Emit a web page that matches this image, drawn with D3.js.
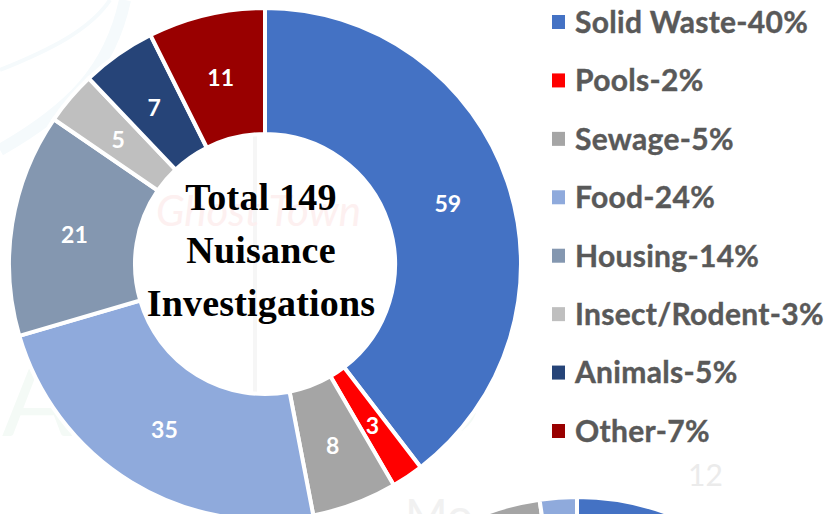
<!DOCTYPE html>
<html><head><meta charset="utf-8">
<script src="https://cdnjs.cloudflare.com/ajax/libs/d3/7.8.5/d3.min.js"></script>
<style>html,body{margin:0;padding:0;background:#fff}svg{display:block}</style>
</head><body><svg id="c" width="835" height="514"></svg>
<script>
const categories=["Solid Waste","Pools","Sewage","Food","Housing","Insect/Rodent","Animals","Other"];
const values=[59,3,8,35,21,5,7,11];
const percents=[40,2,5,24,14,3,5,7];
const colors=["#4472c4","#ff0000","#a5a5a5","#8faadc","#8497b0","#bfbfbf","#264478","#990000"];
const centerLines=["Total 149","Nuisance","Investigations"];
const nextValues=[60,30.7,7,2.3];
const nextColors=["#4472c4","#bfbfbf","#a5a5a5","#8faadc"];
const faintWords=[["Ghost Town",156,226,42,"#fdf0f0"],["12",688,486,30,"#ebebeb"],["Mo",405,532,46,"#f1f1f1"],["A",2,436,104,"#f4faf6"],["O",400,436,104,"#f4faf6"]];
const faintLines=["M0,150C70,110 110,70 125,0","M0,70C50,50 90,30 110,0","M255,134V393"];

const svg=d3.select("#c");
const bg=svg.append("g");
faintLines.forEach((p,i)=>bg.append("path").attr("d",p).attr("fill","none").attr("stroke",i<2?"#f5fafc":"#f6f6f6").attr("stroke-width",i==0?12:4));
faintWords.forEach(w=>bg.append("text").text(w[0]).attr("x",w[1]).attr("y",w[2]).attr("font-size",w[3]).attr("fill",w[4]).attr("font-family","Lato").attr("font-style",w[0][0]=="G"?"italic":"normal"));
const pie=d3.pie().sort(null).value(d=>d);
const arc=d3.arc().innerRadius(130).outerRadius(256);
const main=svg.append("g").attr("transform","translate(265,264)");
main.selectAll("path").data(pie(values)).join("path").attr("d",arc).attr("fill",(d,i)=>colors[i]).attr("stroke","#fff").attr("stroke-width",4);
main.selectAll("text.v").data(pie(values)).join("text").attr("class","v")
 .attr("transform",d=>`translate(${arc.centroid(d)})`)
 .attr("text-anchor","middle").attr("dy","0.42em").attr("fill","#fff").attr("font-family","Lato").attr("font-weight",700).attr("font-size",23).text((d,i)=>values[i]);
main.append("g").selectAll("text").data(centerLines).join("text")
 .attr("x",-4).attr("y",(d,i)=>-54+i*53).attr("text-anchor","middle").attr("fill","#000")
 .attr("font-family","Liberation Serif").attr("font-weight",700).attr("font-size",38).attr("letter-spacing",0.2).text(d=>d);
const next=svg.append("g").attr("transform","translate(577,757)");
const arc2=d3.arc().innerRadius(130).outerRadius(260);
next.selectAll("path").data(pie(nextValues)).join("path").attr("d",arc2).attr("fill",(d,i)=>nextColors[i]).attr("stroke","#fff").attr("stroke-width",4);
const y=d3.scalePoint().domain(categories).range([22,431]);
const legend=svg.append("g");
legend.append("rect").attr("x",552).attr("y",0).attr("width",283).attr("height",460).attr("fill","#fff");
const row=legend.selectAll("g").data(categories).join("g").attr("transform",d=>`translate(552,${y(d)})`);
row.append("rect").attr("y",-7).attr("width",13).attr("height",14).attr("fill",(d,i)=>colors[i]);
row.append("text").attr("x",23).attr("dy","0.36em").attr("font-family","Lato").attr("font-weight",700).attr("font-size",30).attr("letter-spacing",0.3).attr("stroke","#595959").attr("stroke-width",0.4).attr("fill","#595959").text((d,i)=>`${d}-${percents[i]}%`);
</script></body></html>
